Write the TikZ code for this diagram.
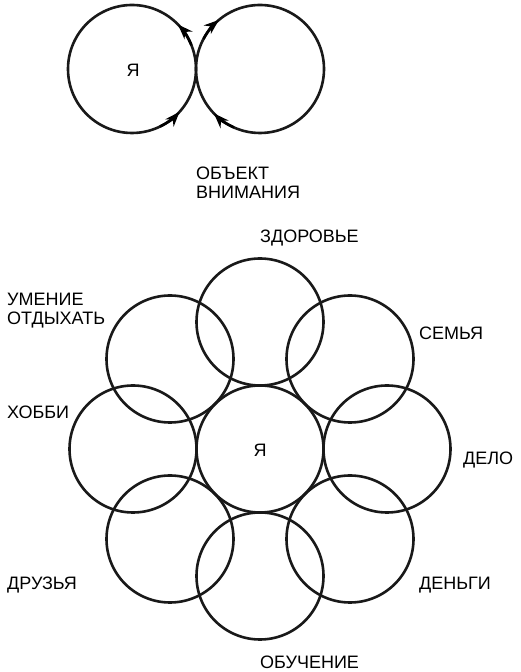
\documentclass[tikz,border=0pt]{standalone}
\usepackage{fontspec}
\setmainfont{Liberation Sans}
\usetikzlibrary{arrows.meta}
\begin{document}
\begin{tikzpicture}[x=1pt,y=1pt,
  ring/.style={circle, draw=black!90, line width=2.6pt, minimum size=127pt, inner sep=0pt, outer sep=0pt},
  bigring/.style={ring, minimum size=128pt},
  flowarrow/.style={line width=2.6pt, -{Stealth[length=15pt,width=11pt]}},
  lbl/.style={font=\fontsize{18}{19}\selectfont, inner sep=0pt, anchor=west, align=left}]
\useasboundingbox (0,0) rectangle (521,672);
% top pair
\node[bigring] (L) at (132,603) {};
\node[bigring] (R) at (260,603) {};
\node[font=\fontsize{18}{19}\selectfont] (me1) at (133,602) {Я};
\draw[flowarrow] (L) ++(-64:64) arc[start angle=-64, end angle=-42, radius=64];
\draw[flowarrow] (L) ++(22:64) arc[start angle=22, end angle=44, radius=64];
\draw[flowarrow] (R) ++(152:64) arc[start angle=152, end angle=130, radius=64];
\draw[flowarrow] (R) ++(246:64) arc[start angle=246, end angle=224, radius=64];
\node[lbl] (obj) at (196,489) {ОБЪЕКТ\\ВНИМАНИЯ};
% flower
\node[ring] (c) at (260,223) {};
\node[ring] (health) at (260,350) {};
\node[ring] (family) at (350,313) {};
\node[ring] (work) at (387,223) {};
\node[ring] (money) at (350,133) {};
\node[ring] (study) at (260,96) {};
\node[ring] (friends) at (170,133) {};
\node[ring] (hobby) at (133,223) {};
\node[ring] (rest) at (170,313) {};
\node[font=\fontsize{18}{19}\selectfont] (me2) at (260,222) {Я};
\node[lbl] (lh) at (260,434) {ЗДОРОВЬЕ};
\node[lbl] (lr) at (7,361) {УМЕНИЕ\\ОТДЫХАТЬ};
\node[lbl] (lf) at (419,339) {СЕМЬЯ};
\node[lbl] (lho) at (7,260) {ХОББИ};
\node[lbl] (lw) at (463,212) {ДЕЛО};
\node[lbl] (lfr) at (7,87) {ДРУЗЬЯ};
\node[lbl] (lm) at (419,87) {ДЕНЬГИ};
\node[lbl] (ls) at (260,10) {ОБУЧЕНИЕ};
\end{tikzpicture}
\end{document}
